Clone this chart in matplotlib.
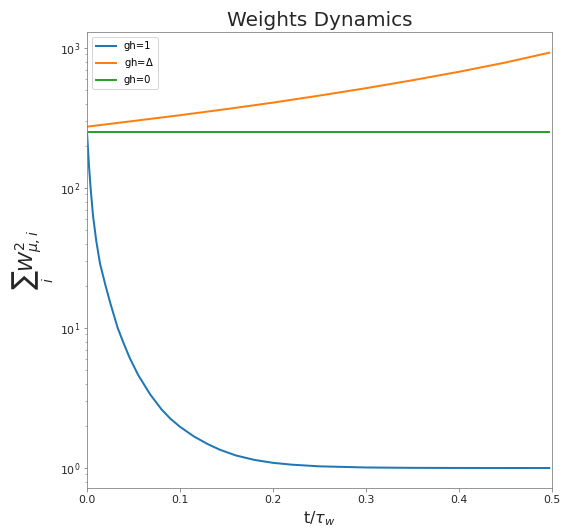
import numpy as np
import matplotlib
matplotlib.use('Agg')
import matplotlib.pyplot as plt

# time in units of tau_w
t_fast = [0, 0.002, 0.004, 0.0065, 0.01, 0.014, 0.02, 0.025, 0.033, 0.04,
          0.046, 0.055, 0.068, 0.08, 0.09, 0.10, 0.115, 0.13, 0.143, 0.16,
          0.18, 0.20, 0.22, 0.25, 0.30, 0.35, 0.40, 0.497]
w_gh1 = [251, 148, 97.7, 63.1, 41.7, 28.8, 20.0, 15.1, 10.0, 7.6,
         6.1, 4.62, 3.35, 2.63, 2.24, 1.97, 1.68, 1.48, 1.35, 1.23,
         1.143, 1.089, 1.057, 1.028, 1.009, 1.003, 1.001, 1.0]

t_slow = [0, 0.05, 0.10, 0.15, 0.20, 0.25, 0.30, 0.35, 0.40, 0.45, 0.497]
w_ghdelta = [274, 301, 331, 366, 407, 457, 516, 588, 676, 787, 925]
w_gh0 = [250, 250, 250, 250, 250, 250, 250, 250, 250, 250, 250]

fig = plt.figure(figsize=(562 / 72, 532 / 72), dpi=72)
ax = fig.add_axes([87 / 562, 44 / 532, 465 / 562, 456 / 532])

ax.plot(t_fast, w_gh1, color='#1f77b4', linewidth=2, label='gh=1')
ax.plot(t_slow, w_ghdelta, color='#ff7f0e', linewidth=2, label='gh=$\\Delta$')
ax.plot(t_slow, w_gh0, color='#2ca02c', linewidth=2, label='gh=0')

ax.set_yscale('log')
ax.set_xlim(0, 0.5)
ax.set_ylim(0.72, 1300)

for spine in ax.spines.values():
    spine.set_edgecolor('#7f7f7f')
ax.tick_params(which='both', colors='#7f7f7f', labelcolor='#262626', labelsize=11)

ax.set_title('Weights Dynamics', fontsize=20, color='#262626')
ax.set_xlabel('t/$\\tau_w$', fontsize=16, color='#262626')
ax.set_ylabel('$\\sum_i W_{\\mu,i}^2$', fontsize=20, color='#262626')
ax.legend(loc='upper left', fontsize=10)

fig.savefig('out.png', dpi=72)
